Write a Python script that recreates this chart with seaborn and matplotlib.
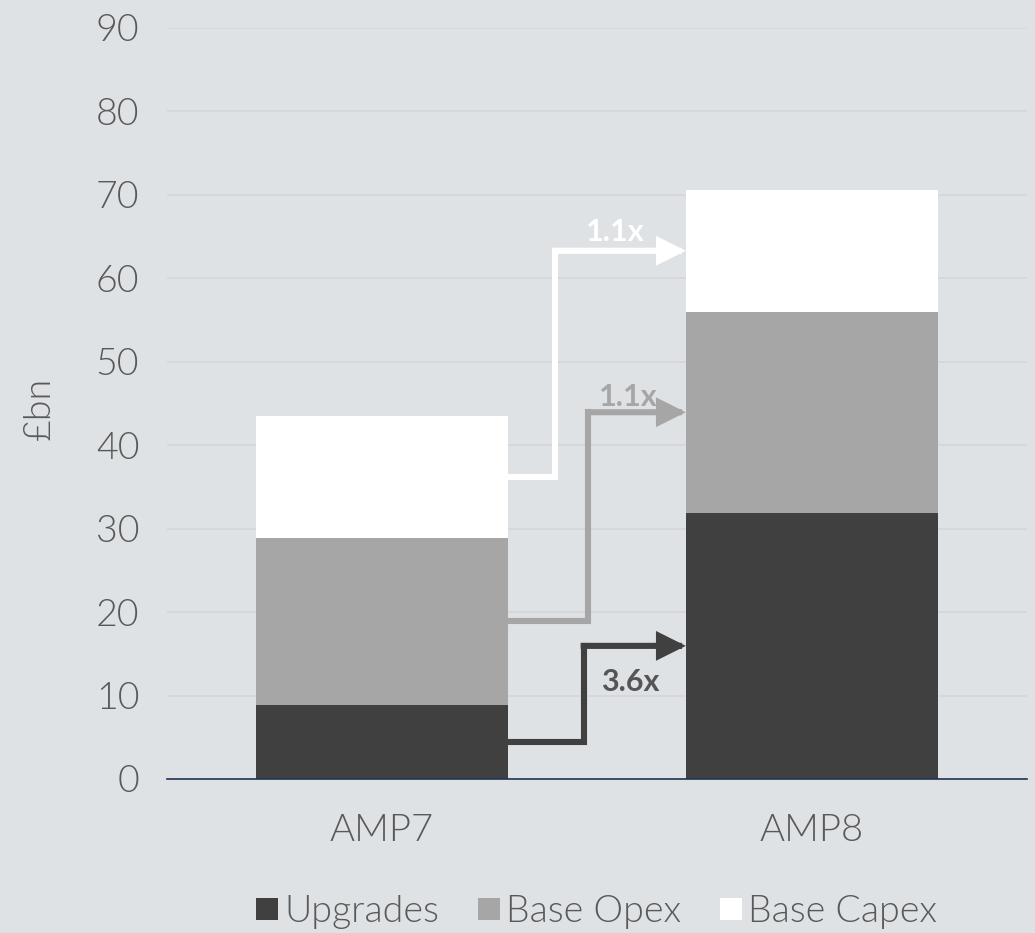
import matplotlib
matplotlib.use("Agg")
import matplotlib.pyplot as plt
from matplotlib.lines import Line2D
import seaborn as sns
import pandas as pd
import numpy as np

# Totals by asset-management period (£bn)
periods = ["AMP7", "AMP8"]
upgrades = [8.9, 31.9]
base_opex = [20.0, 24.1]
base_capex = [14.6, 14.6]
series_names = ["Upgrades", "Base Opex", "Base Capex"]
colors = ["#404040", "#a6a6a6", "#ffffff"]
growth_labels = ["3.6x", "1.1x", "1.1x"]
y_ticks = [0, 10, 20, 30, 40, 50, 60, 70, 80, 90]

bg = "#dfe2e5"
text_col = "#595959"
light = 300

sns.set_theme(style="white")
plt.rcParams["font.family"] = ["Lato", "DejaVu Sans"]

fig = plt.figure(figsize=(10.35, 9.33), dpi=100, facecolor=bg)
ax = fig.add_axes([0.1614, 0.1651, 0.8309, 0.8049])
ax.set_facecolor(bg)

df = pd.DataFrame({
    "period": periods,
    "Upgrades": upgrades,
    "Base Opex": base_opex,
    "Base Capex": base_capex,
})
cum1 = df["Upgrades"]
cum2 = cum1 + df["Base Opex"]
cum3 = cum2 + df["Base Capex"]
bar_w = 0.587

# Stacked bars: draw cumulative heights from the top layer down
for heights, col in [(cum3, colors[2]), (cum2, colors[1]), (cum1, colors[0])]:
    sns.barplot(x=df["period"], y=heights, color=col, width=bar_w,
                saturation=1, linewidth=0, ax=ax, zorder=2)

ax.set_xlim(-0.5, 1.5)
ax.set_ylim(0, 90)
ax.set_yticks(y_ticks)
ax.yaxis.grid(True, color="#d3d5d8", linewidth=1.2, zorder=0)
ax.set_axisbelow(True)
for s in ["top", "right", "left"]:
    ax.spines[s].set_visible(False)
ax.spines["bottom"].set_color("#1f3458")
ax.spines["bottom"].set_linewidth(1.2)
ax.tick_params(axis="both", length=0, labelcolor=text_col)
ax.tick_params(axis="y", pad=20, labelsize=27)
ax.tick_params(axis="x", pad=25, labelsize=27.5)
for lab in ax.get_xticklabels() + ax.get_yticklabels():
    lab.set_fontweight(light)
ax.set_xlabel("")
ax.set_ylabel("£bn", fontsize=27, color=text_col, fontweight=light)
ax.yaxis.set_label_coords(-0.1477, 0.493)
ax.yaxis.label.set_verticalalignment("center")

# Step arrows linking segment midpoints of the two bars
left_edge = 0 + bar_w / 2
right_edge = 1 - bar_w / 2
starts = [upgrades[0] / 2, cum1[0] + base_opex[0] / 2, cum2[0] + base_capex[0] / 2]
ends = [upgrades[1] / 2, cum1[1] + base_opex[1] / 2, cum2[1] + base_capex[1] / 2]
step_x = [0.469, 0.48, 0.403]
arrow_cols = ["#404040", "#a6a6a6", "#ffffff"]
label_cols = ["#555555", "#a6a6a6", "#ffffff"]
label_pos = [(0.578, 11.6), (0.573, 45.8), (0.543, 65.6)]

for y0, y1, sx, ac, lc, txt, (lx, ly) in zip(starts, ends, step_x, arrow_cols,
                                              label_cols, growth_labels, label_pos):
    ax.plot([left_edge, sx, sx], [y0, y0, y1], color=ac, lw=4.4,
            solid_capstyle="projecting", solid_joinstyle="miter", zorder=3)
    ax.annotate("", xy=(right_edge, y1), xytext=(sx, y1),
                arrowprops=dict(arrowstyle="-|>,head_length=1.2,head_width=0.6",
                                color=ac, lw=4.4, shrinkA=0, shrinkB=0,
                                joinstyle="miter", capstyle="projecting"),
                zorder=3)
    ax.text(lx, ly, txt, ha="center", va="center", fontsize=22,
            fontweight="bold", color=lc, zorder=4)

handles = [Line2D([], [], marker="s", linestyle="none", markersize=16,
                  markerfacecolor=c, markeredgewidth=0) for c in colors]
leg = fig.legend(handles, series_names, loc="center", bbox_to_anchor=(0.575, 0.022),
                 ncol=3, frameon=False, fontsize=27, handletextpad=0.08,
                 columnspacing=0.95, handlelength=0.75)
for t in leg.get_texts():
    t.set_color(text_col)
    t.set_fontweight(light)

fig.savefig("out.png", dpi=100, facecolor=bg)
